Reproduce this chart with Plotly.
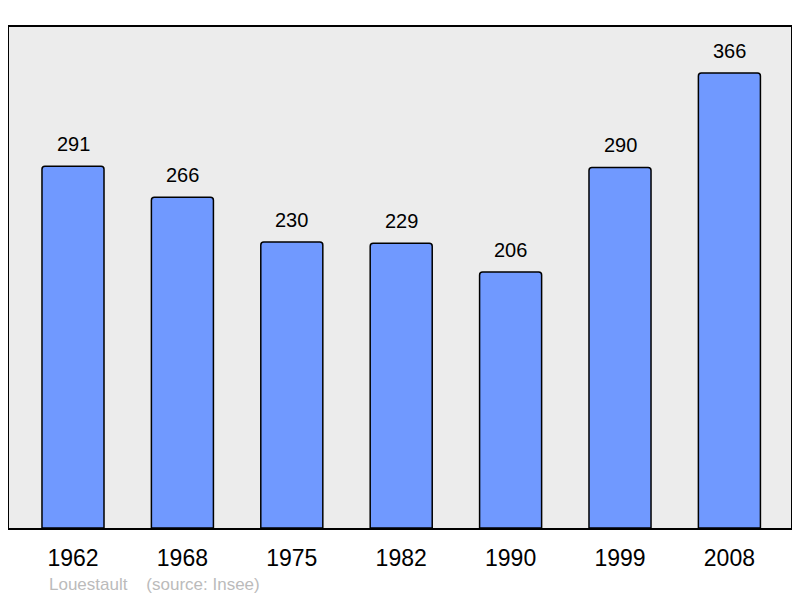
import plotly.graph_objects as go

years = ["1962", "1968", "1975", "1982", "1990", "1999", "2008"]
population = [291, 266, 230, 229, 206, 290, 366]
commune = "Louestault"
source = "(source: Insee)"

pos = list(range(len(years)))

fig = go.Figure()
fig.add_trace(go.Bar(
    x=pos, y=population, width=0.567,
    marker=dict(color="#7099ff", line=dict(color="black", width=1.5), cornerradius=3),
    hoverinfo="skip",
))

# value labels above bars
for p, v in zip(pos, population):
    fig.add_annotation(x=p, y=v, text=str(v), showarrow=False, yshift=22,
                       font=dict(size=20, color="black"))

fig.add_annotation(xref="paper", yref="paper", x=(47 - 9) / 782, y=-0.112,
                   xanchor="left", yanchor="middle", showarrow=False,
                   text=commune + "\u00a0\u00a0\u00a0\u00a0" + source,
                   font=dict(size=17, color="#bbbbbb"))

# page body has an 8px default margin, so the figure is offset by that
fig.update_layout(
    width=792, height=590,
    margin=dict(l=1, r=9, t=19, b=70),
    paper_bgcolor="white", plot_bgcolor="#ececec",
    font=dict(family="Liberation Sans, Arial, sans-serif", color="black"),
    showlegend=False,
    xaxis=dict(range=[-0.585, 6.563], tickvals=pos, ticktext=years,
               showgrid=False, zeroline=False, showline=True, mirror=True,
               linecolor="black", linewidth=2, ticks="", ticklabelstandoff=8,
               tickfont=dict(size=23), fixedrange=True),
    yaxis=dict(range=[0, 403], showticklabels=False, showgrid=False,
               zeroline=False, showline=True, mirror=True,
               linecolor="black", linewidth=2, ticks="", fixedrange=True),
)

fig.write_html("out.html")
